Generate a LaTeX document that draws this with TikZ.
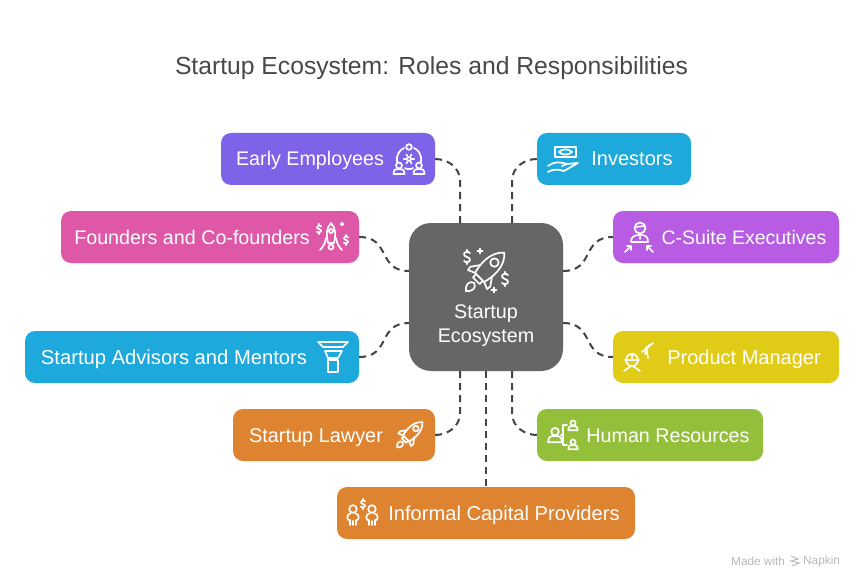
\documentclass[tikz,border=0pt]{standalone}
\usepackage{fontspec}
\setmainfont{Liberation Sans}
\usetikzlibrary{positioning,arrows.meta}

\definecolor{hubgray}{HTML}{666666}
\definecolor{purpleA}{HTML}{7E62E8}
\definecolor{blueA}{HTML}{1EA9DC}
\definecolor{pinkA}{HTML}{DF57A7}
\definecolor{violetA}{HTML}{B75CE3}
\definecolor{yellowA}{HTML}{E0CC16}
\definecolor{greenA}{HTML}{94BF3A}
\definecolor{orangeA}{HTML}{DE8330}
\definecolor{titlegray}{HTML}{484848}
\definecolor{linkgray}{HTML}{444444}

\tikzset{
    box/.style={rounded corners=10pt,minimum height=52pt,inner sep=0pt,draw=none},
    boxtext/.style={white,anchor=base,inner sep=0pt,font=\fontsize{#1}{24}\selectfont},
    boxtext/.default=19.7,
    link/.style={linkgray,line width=2pt,dash pattern=on 7pt off 5pt},
    icon/.style={white,line width=1.7pt,line cap=round,line join=round},
    dollar/.pic={
        \draw (2.5,-3.2) .. controls (1.5,-4.8) and (-2.5,-4.8) .. (-2.5,-2.2) .. controls (-2.5,0) and (2.5,0) .. (2.5,2.2) .. controls (2.5,4.8) and (-1.5,4.8) .. (-2.5,3.2);
        \draw (0,-6) -- (0,-4.2) (0,4.2) -- (0,6);
    },
    plus/.pic={\draw (-2.5,0) -- (2.5,0) (0,-2.5) -- (0,2.5);},
    rocket/.pic={
        \draw (0,-21) .. controls (9,-13) and (8,0) .. (5.5,9) -- (-5.5,9) .. controls (-8,0) and (-9,-13) .. (0,-21) -- cycle;
        \draw (0,-9) circle (3.6);
        \draw (-7,1) -- (-12,8) -- (-11.5,11.5) -- (-5.5,9);
        \draw (7,1) -- (12,8) -- (11.5,11.5) -- (5.5,9);
        \draw (-4,9) -- (-4,13) -- (4,13) -- (4,9);
        \draw (0,15.5) .. controls (4.5,17) and (4.5,22) .. (0,25.5) .. controls (-4.5,22) and (-4.5,17) .. (0,15.5) -- cycle;
    },
    person/.pic={
        \draw (0,-3.5) circle (3);
        \draw (-5.5,5) .. controls (-5.5,0) and (-3,0) .. (0,0) .. controls (3,0) and (5.5,0) .. (5.5,5) -- cycle;
    },
    standing/.pic={
        \draw (0,-6) circle (3.8);
        \draw (-2.5,-1.5) .. controls (-6.5,-1) and (-6,4) .. (-4.5,5) -- (-3,5) -- (-3,10);
        \draw (2.5,-1.5) .. controls (6.5,-1) and (6,4) .. (4.5,5) -- (3,5) -- (3,10);
        \draw (0,6) -- (0,10);
    },
}

\begin{document}
\begin{tikzpicture}[x=1pt,y=-1pt]
    % page
    \fill[white] (0,0) rectangle (864,588);
    \useasboundingbox (0,0) rectangle (864,588);

    % title
    \node[titlegray,anchor=base,inner sep=0pt,font=\fontsize{24.7}{28}\selectfont] (title) at (431.5,75) {Startup Ecosystem: Roles and Responsibilities};

    % centre
    \node[fill=hubgray,rounded corners=22pt,minimum width=154pt,minimum height=148pt,inner sep=0pt] (hub) at (486,297) {};
    \node[white,inner sep=0pt,align=center,font=\fontsize{19.7}{24}\selectfont] (hubtext) at (486,326) {Startup\\Ecosystem};

    % boxes
    \node[box,fill=purpleA,minimum width=214pt] (early) at (328,159) {};
    \node[box,fill=blueA,minimum width=154pt] (investors) at (614,159) {};
    \node[box,fill=pinkA,minimum width=298pt] (founders) at (210,237) {};
    \node[box,fill=violetA,minimum width=226pt] (csuite) at (726,237) {};
    \node[box,fill=blueA,minimum width=334pt] (advisors) at (192,357) {};
    \node[box,fill=yellowA,minimum width=226pt] (product) at (726,357) {};
    \node[box,fill=orangeA,minimum width=202pt] (lawyer) at (334,435) {};
    \node[box,fill=greenA,minimum width=226pt] (hr) at (650,435) {};
    \node[box,fill=orangeA,minimum width=298pt] (informal) at (486,513) {};

    % labels
    \node[boxtext] (earlytext) at (310,166) {Early Employees};
    \node[boxtext=20] (investorstext) at (632,166) {Investors};
    \node[boxtext] (founderstext) at (192,244) {Founders and Co-founders};
    \node[boxtext=19.5] (csuitetext) at (744,244) {C-Suite Executives};
    \node[boxtext=20.2] (advisorstext) at (174,364) {Startup Advisors and Mentors};
    \node[boxtext=20] (producttext) at (744,364) {Product Manager};
    \node[boxtext=19.9] (lawyertext) at (316,442) {Startup Lawyer};
    \node[boxtext] (hrtext) at (668,442) {Human Resources};
    \node[boxtext=20.1] (informaltext) at (504,520) {Informal Capital Providers};

    % ports on the centre box
    \coordinate (hubNa) at (460,223);
    \coordinate (hubNb) at (512,223);
    \coordinate (hubWa) at (409,271);
    \coordinate (hubWb) at (409,323);
    \coordinate (hubEa) at (563,271);
    \coordinate (hubEb) at (563,323);
    \coordinate (hubSa) at (460,371);
    \coordinate (hubSb) at (512,371);

    % connectors
    \draw[link] (hubNa) -- ++(0,-42) .. controls +(0,-14) and +(12,0) .. (early.east);
    \draw[link] (hubNb) -- ++(0,-42) .. controls +(0,-14) and +(-12,0) .. (investors.west);
    \draw[link] (founders.east) .. controls +(32,0) and +(-32,0) .. (hubWa);
    \draw[link] (advisors.east) .. controls +(32,0) and +(-32,0) .. (hubWb);
    \draw[link] (hubEa) .. controls +(32,0) and +(-32,0) .. (csuite.west);
    \draw[link] (hubEb) .. controls +(32,0) and +(-32,0) .. (product.west);
    \draw[link] (hubSa) -- ++(0,42) .. controls +(0,14) and +(12,0) .. (lawyer.east);
    \draw[link] (hubSb) -- ++(0,42) .. controls +(0,14) and +(-12,0) .. (hr.west);
    \draw[link] (hub.south) -- (informal.north);

    % centre icon
    \pic[icon,rotate=-45,scale=1.17] at (487,270) {rocket};
    \pic[icon,scale=1.2] at (467,257) {dollar};
    \pic[icon,scale=1.2] at (505,279) {dollar};
    \pic[icon] at (480,251) {plus};
    \pic[icon] at (494,290) {plus};

    % early employees
    \begin{scope}[icon,shift={(409,159)}]
        \draw (0,-12) circle (2.8);
        \draw (-12,3) .. controls (-13,-5) and (-9,-9) .. (-5,-11);
        \draw (12,3) .. controls (13,-5) and (9,-9) .. (5,-11);
        \draw (-4,9) .. controls (-2,10.5) and (2,10.5) .. (4,9);
        \draw (0,0) circle (2);
        \foreach \a in {0,60,...,300}
            \draw (\a:3.4) -- (\a:5.2);
        \pic at (-10,10) {person};
        \pic at (10,10) {person};
    \end{scope}

    % investors
    \begin{scope}[icon,shift={(565,155)}]
        \draw (-10,-8) rectangle (11,2);
        \draw (-6,-3) .. controls (-3,-6.5) and (4,-6.5) .. (7,-3) .. controls (4,.5) and (-3,.5) .. (-6,-3) -- cycle;
        \draw (-17,11) .. controls (-10,6) and (-5,7) .. (2,9) -- (-3,11);
        \draw (2,9) -- (13,8) -- (-1,16) .. controls (-8,14) and (-12,14) .. (-17,17);
    \end{scope}

    % founders
    \begin{scope}[icon]
        \draw (331,223) .. controls (336,228) and (336,236) .. (334,243) -- (328,243) .. controls (326,236) and (326,228) .. (331,223) -- cycle;
        \draw (331,231) circle (2);
        \draw (326,238) .. controls (325,244) and (323,247) .. (320,250);
        \draw (336,238) .. controls (337,244) and (339,247) .. (342,250);
        \draw (331,247) circle (2.5);
        \pic[scale=.85] at (319,229) {dollar};
        \pic[scale=.85] at (346,240) {dollar};
        \fill[white] (342,224) circle (2);
    \end{scope}

    % c-suite
    \begin{scope}[icon,shift={(639,235)}]
        \draw (1,-7) circle (5.5);
        \draw (-4,-8) -- (6,-9);
        \draw (-8,7) .. controls (-8,2) and (-5,0) .. (1,0) .. controls (7,0) and (9,2) .. (9,7) -- cycle;
        \draw (1,2) -- (1,4);
        \draw (-14,17) -- (-8,11) (-12,11) -- (-8,11) -- (-8,15);
        \draw (14,17) -- (8,11) (12,11) -- (8,11) -- (8,15);
    \end{scope}

    % advisors
    \begin{scope}[icon]
        \draw (318,342) -- (348,342) -- (343,347) -- (323,347) -- cycle;
        \draw (325,351) -- (342,351) -- (338,358) -- (328,358) -- cycle;
        \draw (328,360) rectangle (338,372);
    \end{scope}

    % product manager
    \begin{scope}[icon,shift={(632,360)}]
        \draw (0,0) circle (6);
        \draw (-7,0) -- (7,0) (0,-6) -- (0,-2);
        \draw (-8,11) -- (-1,6) (8,11) -- (1,6);
        \draw (10,-8) -- (21,-17);
        \draw (13,-6) -- (17,-15) (14,-13) -- (16,-2);
    \end{scope}

    % lawyer
    \pic[icon,rotate=-45,scale=.77] at (411,433.5) {rocket};

    % hr
    \begin{scope}[icon]
        \pic[scale=1.25] at (555,436) {person};
        \draw (567,425) -- (563,425) -- (563,445) -- (567,445) (561,435) -- (563,435);
        \pic[scale=.85] at (573,426) {person};
        \pic[scale=.85] at (573,445) {person};
    \end{scope}

    % informal capital
    \begin{scope}[icon]
        \pic at (353,515) {standing};
        \pic at (372,515) {standing};
        \pic[scale=.85] at (363,504) {dollar};
    \end{scope}

    % footer
    \node[gray!55,anchor=west,inner sep=0pt,font=\fontsize{11.8}{13}\selectfont] (madewith) at (731,561) {Made with};
    \node[gray!55,anchor=west,inner sep=0pt,font=\fontsize{11.8}{13}\selectfont] (napkin) at (803,561) {Napkin};
    \draw[gray!55,line width=1pt] (791,556) -- (798,559) -- (791,561) -- (799,563) -- (792,566);
\end{tikzpicture}
\end{document}
